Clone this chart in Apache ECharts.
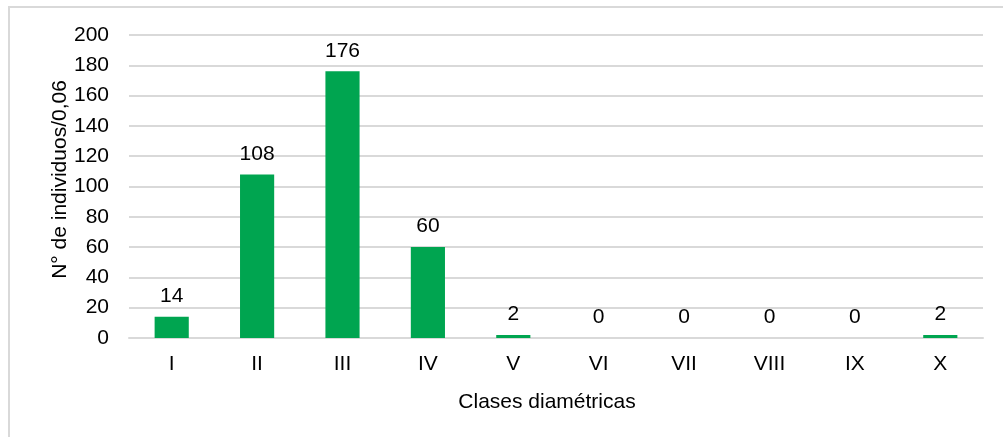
<!DOCTYPE html>
<html>
<head>
<meta charset="utf-8">
<script src="https://cdn.jsdelivr.net/npm/echarts@6/dist/echarts.min.js"></script>
<style>
  html, body { margin: 0; padding: 0; background: #fff; }
  #chart { width: 1003px; height: 437px; }
</style>
</head>
<body>
<div id="chart"></div>
<script>
  // clases diametricas y numero de individuos
  var clases = ['I', 'II', 'III', 'IV', 'V', 'VI', 'VII', 'VIII', 'IX', 'X'];
  var individuos = [14, 108, 176, 60, 2, 0, 0, 0, 0, 2];
  var yTicks = { min: 0, max: 200, interval: 20 };

  var font = '"Liberation Sans", Arial, sans-serif';
  var myChart = echarts.init(document.getElementById('chart'));

  var option = {
    animation: false,
    backgroundColor: '#fff',
    graphic: [{
      type: 'rect',
      shape: { x: 9, y: 7, width: 1100, height: 500 },
      style: { fill: 'none', stroke: '#d9d9d9', lineWidth: 2 },
      silent: true
    }],
    grid: {
      left: 129,
      right: 20,
      top: 35,
      bottom: 99
    },
    xAxis: {
      type: 'category',
      data: clases,
      name: 'Clases diamétricas',
      nameLocation: 'middle',
      nameGap: 54,
      nameMoveOverlap: false,
      nameTextStyle: { color: '#000', fontFamily: font, fontSize: 21, padding: [0, 18, 0, 0] },
      axisLine: { show: true, lineStyle: { color: '#d9d9d9', width: 2 } },
      axisTick: { show: false },
      axisLabel: { color: '#000', fontFamily: font, fontSize: 21, margin: 16 }
    },
    yAxis: {
      type: 'value',
      min: yTicks.min,
      max: yTicks.max,
      interval: yTicks.interval,
      name: 'N° de individuos/0,06',
      nameLocation: 'middle',
      nameGap: 58,
      nameMoveOverlap: false,
      nameTextStyle: { color: '#000', fontFamily: font, fontSize: 21, padding: [0, 0, 0, 14] },
      axisLine: { show: false },
      axisTick: { show: false },
      splitLine: { lineStyle: { color: '#d9d9d9', width: 2 } },
      axisLabel: { color: '#000', fontFamily: font, fontSize: 21, margin: 20 }
    },
    series: [{
      type: 'bar',
      data: individuos,
      barWidth: '40%',
      itemStyle: { color: '#00a550' },
      label: {
        show: true,
        position: 'top',
        distance: 10,
        color: '#000',
        fontFamily: font,
        fontSize: 21
      }
    }]
  };

  myChart.setOption(option);
</script>
</body>
</html>
